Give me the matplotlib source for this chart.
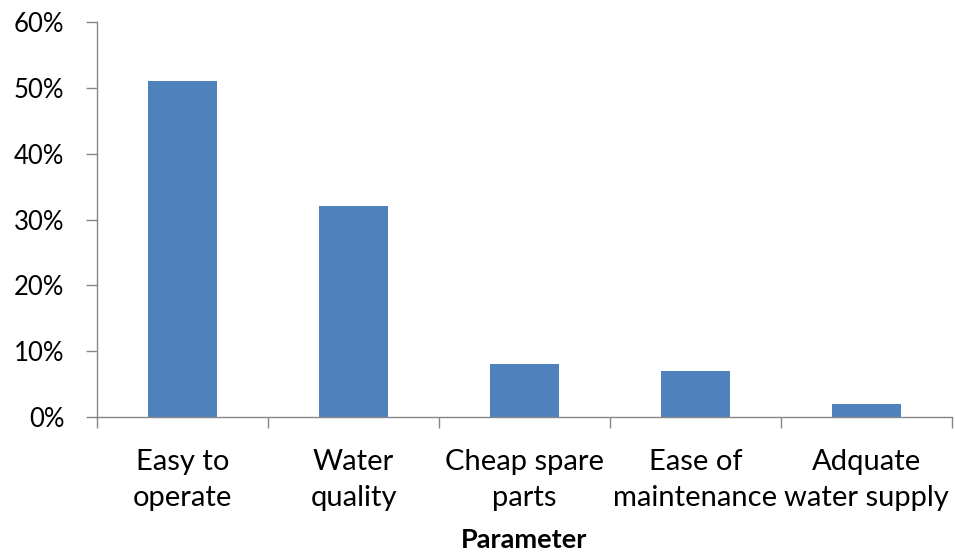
import matplotlib
matplotlib.use("Agg")
import matplotlib.pyplot as plt
from matplotlib.ticker import FixedLocator, PercentFormatter

categories = ["Easy to\noperate", "Water\nquality", "Cheap spare\nparts",
              "Ease of\nmaintenance", "Adquate\nwater supply"]
shares = [51, 32, 8, 7, 2]
y_ticks = [0, 10, 20, 30, 40, 50, 60]

plt.rcParams["font.family"] = ["Lato", "DejaVu Sans"]

fig = plt.figure(figsize=(9.55, 5.58), dpi=100)
ax = fig.add_axes([97 / 955, 1 - 417 / 558, (952 - 97) / 955, (417 - 22) / 558])

x = list(range(len(categories)))
ax.bar(x, shares, width=0.4, color="#4F81BD", zorder=2)

ax.set_xlim(-0.5, len(categories) - 0.5)
ax.set_ylim(0, 60)
ax.set_yticks(y_ticks)
ax.yaxis.set_major_formatter(PercentFormatter(decimals=0))

# Category boundaries carry the tick marks, centres carry the labels
ax.xaxis.set_major_locator(FixedLocator([i - 0.5 for i in range(len(categories) + 1)]))
ax.xaxis.set_major_formatter(plt.NullFormatter())
ax.xaxis.set_minor_locator(FixedLocator(x))
ax.set_xticklabels(categories, minor=True)

spine_color = "#868686"
for side in ("top", "right"):
    ax.spines[side].set_visible(False)
for side in ("left", "bottom"):
    ax.spines[side].set_color(spine_color)
    ax.spines[side].set_linewidth(1.0)

ax.tick_params(axis="y", which="major", direction="out", length=8, width=1,
               color=spine_color, labelsize=18.5, pad=15.5, labelcolor="black")
ax.tick_params(axis="x", which="major", direction="out", length=8, width=1,
               color=spine_color)
ax.tick_params(axis="x", which="minor", length=0, labelsize=21, pad=23,
               labelcolor="black")
for lbl in ax.get_xticklabels(minor=True):
    lbl.set_linespacing(1.5)

ax.set_xlabel("Parameter", fontsize=19.5, fontweight="bold", labelpad=12)

fig.savefig("out.png", dpi=100)
